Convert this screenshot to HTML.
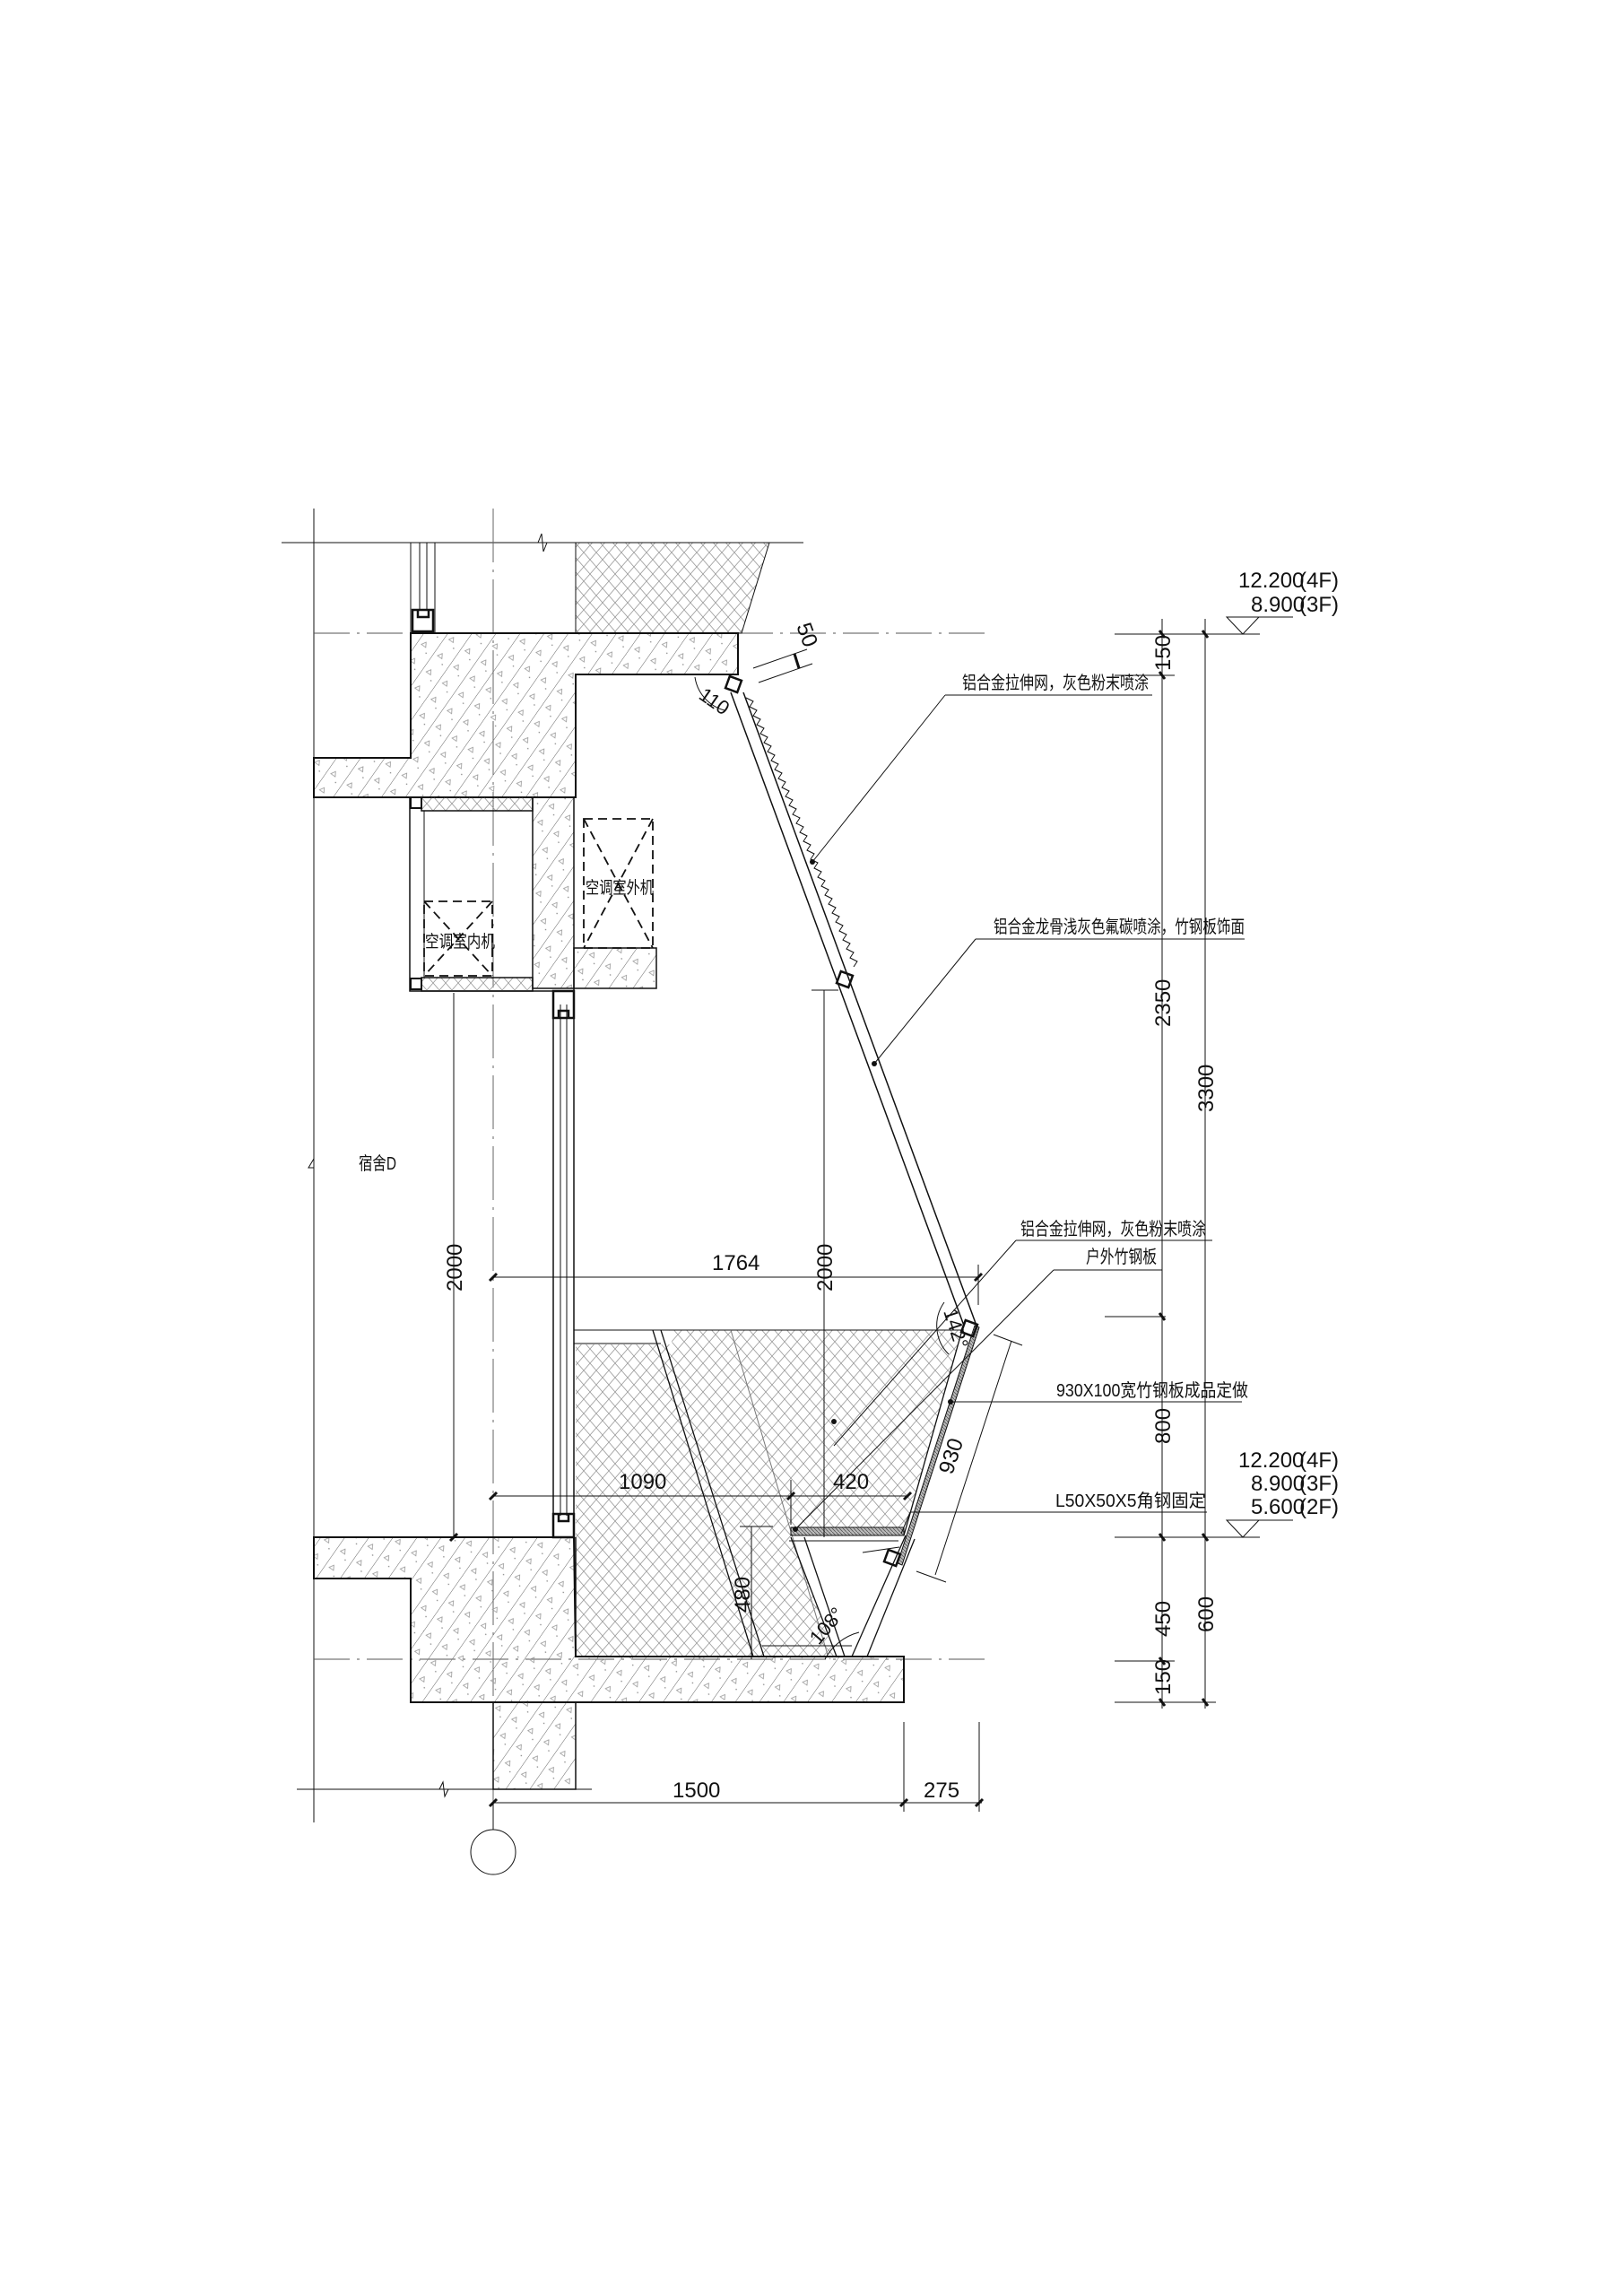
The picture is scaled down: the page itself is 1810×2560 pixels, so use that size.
<!DOCTYPE html>
<html><head><meta charset="utf-8"><style>
html,body{margin:0;padding:0;background:#fff}
svg{display:block}
text{font-family:"Liberation Sans","Noto Sans CJK SC",sans-serif;fill:#111}
</style></head><body>
<svg width="1810" height="2560" viewBox="0 0 1810 2560" xmlns="http://www.w3.org/2000/svg">
<defs>
<pattern id="con" width="22" height="22" patternUnits="userSpaceOnUse" patternTransform="rotate(35)">
<line x1="0" y1="0" x2="0" y2="22" stroke="#666" stroke-width="1"/>
<path d="M8 6 l3 5 l-6 0z" fill="none" stroke="#999" stroke-width="0.8"/>
<circle cx="15" cy="16" r="0.8" fill="#888"/>
</pattern>
<pattern id="mesh" width="14" height="16" patternUnits="userSpaceOnUse">
<path d="M0 0 Q3.5 4 7 8 Q10.5 12 14 16 M14 0 Q10.5 4 7 8 Q3.5 12 0 16" fill="none" stroke="#999" stroke-width="0.8"/>
</pattern>
<pattern id="bam" width="4" height="4" patternUnits="userSpaceOnUse">
<rect width="4" height="4" fill="#bbb"/><line x1="0" y1="0" x2="4" y2="4" stroke="#555" stroke-width="0.8"/>
</pattern>
</defs>
<g stroke="#111" fill="none" stroke-width="1">
<line x1="350" y1="567" x2="350" y2="2032"/>
<path d="M350 1292 l-6 10 l6 0"/>
<line x1="314" y1="605" x2="896" y2="605"/>
<path d="M600 605 l4 -10 l2 20 l4 -10" />
<line x1="350" y1="706" x2="1100" y2="706" stroke-dasharray="40 8 3 8" stroke="#555"/>
<line x1="350" y1="1850" x2="1100" y2="1850" stroke-dasharray="40 8 3 8" stroke="#555"/>
<line x1="550" y1="567" x2="550" y2="2040" stroke-dasharray="60 8 3 8" stroke="#666"/>
<path d="M642 605 L858 605 L827 706 L642 706 Z" fill="url(#mesh)"/>
<line x1="458" y1="605" x2="458" y2="706"/><line x1="468" y1="605" x2="468" y2="680"/><line x1="476" y1="605" x2="476" y2="680"/><line x1="485" y1="605" x2="485" y2="706"/>
<path d="M460 680 h23 v24 h-23z M466 680 v8 h12 v-8" stroke-width="2.5"/>
<path d="M458 706 L823 706 L823 752 L642 752 L642 889 L350 889 L350 845 L458 845 Z" fill="url(#con)" stroke-width="2"/>
<path d="M457 889 v216 h183" stroke-width="1.5"/>
<rect x="470" y="889" width="124" height="15" fill="url(#mesh)" stroke-width="1.5"/>
<rect x="470" y="1090" width="124" height="15" fill="url(#mesh)" stroke-width="1.5"/>
<rect x="458" y="889" width="12" height="12" stroke-width="2"/><rect x="458" y="1091" width="12" height="12" stroke-width="2"/>
<line x1="473" y1="904" x2="473" y2="1090"/>
<rect x="594" y="889" width="46" height="213" fill="url(#con)" stroke-width="1.5"/>
<rect x="640" y="1057" width="92" height="45" fill="url(#con)" stroke-width="1.5"/>
<g stroke-dasharray="10 6" stroke-width="1.8">
<rect x="651" y="913" width="77" height="144"/><line x1="651" y1="913" x2="728" y2="1057"/><line x1="728" y1="913" x2="651" y2="1057"/>
<rect x="473" y="1005" width="76" height="83"/><line x1="473" y1="1005" x2="549" y2="1088"/><line x1="549" y1="1005" x2="473" y2="1088"/>
</g>
<line x1="617" y1="1105" x2="617" y2="1714" stroke-width="1.5"/><line x1="625" y1="1120" x2="625" y2="1690"/><line x1="632" y1="1120" x2="632" y2="1690"/><line x1="640" y1="1102" x2="640" y2="1714" stroke-width="1.5"/>
<path d="M617 1105 h23 v30 h-23z M623 1135 v-8 h11 v8" stroke-width="2.5"/>
<path d="M617 1688 h23 v26 h-23z M623 1688 v8 h11 v-8" stroke-width="2.5"/>
<line x1="815" y1="772" x2="1075" y2="1478" stroke-width="1.5"/>
<line x1="829" y1="772" x2="1089" y2="1478" stroke-width="1.5"/>
<path d="M832 778 l8 4 l-4 6 l8 4 l-4 6 l8 4 l-4 6 l8 4 l-4 6 l8 4 l-4 6 l8 4 l-4 6 l8 4 l-4 6 l8 4 l-4 6 l8 4 l-4 6 l8 4 l-4 6 l8 4 l-4 6 l8 4 l-4 6 l8 4 l-4 6 l8 4 l-4 6 l8 4 l-4 6 l8 4 l-4 6 l8 4 l-4 6 l8 4 l-4 6 l8 4 l-4 6 l8 4 l-4 6 l8 4 l-4 6 l8 4 l-4 6 l8 4 l-4 6 l8 4 l-4 6 l8 4 l-4 6 l8 4 l-4 6 l8 4 l-4 6 l8 4 l-4 6 l8 4 l-4 6 l8 4 l-4 6"/>
<rect x="811" y="756" width="14" height="14" stroke-width="2.5" transform="rotate(20 818 763)"/>
<rect x="935" y="1085" width="14" height="14" stroke-width="2.5" transform="rotate(20 942 1092)"/>
<path d="M775 755 A45 45 0 0 0 808 792" />
<line x1="840" y1="745" x2="900" y2="724"/><line x1="846" y1="761" x2="906" y2="740"/><line x1="886" y1="729" x2="891" y2="745" stroke-width="3"/>
<path d="M642 1499 L642 1847 L933 1847 L882 1712 L1008 1712 L1073 1483 L746 1483 L750 1499 Z" fill="url(#mesh)" stroke="none"/>
<line x1="640" y1="1483" x2="1075" y2="1483"/>
<line x1="640" y1="1498" x2="737" y2="1498"/>
<line x1="728" y1="1483" x2="840" y2="1847" stroke-width="1.3"/>
<line x1="737" y1="1483" x2="852" y2="1847" stroke-width="1.3"/>
<line x1="815" y1="1483" x2="923" y2="1845" stroke="#777"/>
<line x1="642" y1="1714" x2="642" y2="1847" stroke-width="1.5"/>
<rect x="882" y="1703" width="126" height="9" fill="url(#bam)"/>
<line x1="882" y1="1714" x2="933" y2="1847" stroke-width="1.3"/>
<line x1="897" y1="1714" x2="942" y2="1847" stroke-width="1.3"/>
<line x1="1010" y1="1712" x2="950" y2="1847" stroke-width="1.3"/>
<line x1="1020" y1="1716" x2="967" y2="1847" stroke-width="1.3"/>
<line x1="880" y1="1718" x2="1002" y2="1718"/>
<line x1="850" y1="1835" x2="950" y2="1835"/>
<polygon points="1087,1478 1092,1480 1006,1745 1001,1743" fill="url(#bam)" stroke-width="1"/>
<line x1="1073" y1="1483" x2="1008" y2="1712" stroke-width="1.3"/>
<rect x="1074" y="1474" width="14" height="14" stroke-width="2.5" transform="rotate(20 1081 1481)"/>
<rect x="988" y="1730" width="14" height="14" stroke-width="2.5" transform="rotate(20 995 1737)"/>
<path d="M1053 1452 A45 45 0 0 0 1058 1510"/>
<path d="M920 1850 A60 60 0 0 1 958 1820"/>
<path d="M350 1714 L640 1714 L642 1847 L1008 1847 L1008 1898 L458 1898 L458 1760 L350 1760 Z" fill="url(#con)" stroke-width="2"/>
<rect x="550" y="1898" width="92" height="97" fill="url(#con)" stroke-width="1.5"/>
<line x1="331" y1="1995" x2="660" y2="1995"/>
<path d="M490 1995 l4 -8 l2 16 l4 -8"/>
<circle cx="550" cy="2065" r="25"/>
<line x1="550" y1="2040" x2="550" y2="2010"/>
<line x1="550" y1="2010" x2="1095" y2="2010"/>
<line x1="1008" y1="1920" x2="1008" y2="2020"/><line x1="1092" y1="1920" x2="1092" y2="2020"/>
<g stroke-width="3"><line x1="546" y1="2014" x2="554" y2="2006"/><line x1="1004" y1="2014" x2="1012" y2="2006"/><line x1="1088" y1="2014" x2="1096" y2="2006"/></g>
<line x1="506" y1="1107" x2="506" y2="1714"/>
<line x1="550" y1="1424" x2="1092" y2="1424"/><line x1="1091" y1="1410" x2="1091" y2="1455"/>
<g stroke-width="3"><line x1="546" y1="1428" x2="554" y2="1420"/><line x1="1087" y1="1428" x2="1095" y2="1420"/><line x1="502" y1="1718" x2="510" y2="1710"/></g>
<line x1="919" y1="1104" x2="919" y2="1714"/><line x1="905" y1="1104" x2="935" y2="1104"/>
<line x1="550" y1="1668" x2="1012" y2="1668"/>
<line x1="882" y1="1650" x2="882" y2="1700"/>
<g stroke-width="3"><line x1="546" y1="1672" x2="554" y2="1664"/><line x1="878" y1="1672" x2="886" y2="1664"/><line x1="1008" y1="1672" x2="1016" y2="1664"/></g>
<line x1="838" y1="1702" x2="838" y2="1850"/><line x1="825" y1="1702" x2="862" y2="1702"/>
<line x1="1128" y1="1495" x2="1043" y2="1756"/>
<line x1="1108" y1="1488" x2="1140" y2="1500"/><line x1="1022" y1="1752" x2="1055" y2="1764"/>
<line x1="1296" y1="690" x2="1296" y2="1905"/><line x1="1344" y1="690" x2="1344" y2="1905"/>
<line x1="1243" y1="707" x2="1405" y2="707"/>
<line x1="1243" y1="753" x2="1310" y2="753"/>
<line x1="1232" y1="1468" x2="1300" y2="1468"/>
<line x1="1243" y1="1714" x2="1405" y2="1714"/>
<line x1="1243" y1="1852" x2="1310" y2="1852"/>
<line x1="1243" y1="1898" x2="1356" y2="1898"/>
<g stroke-width="3"><line x1="1293" y1="703" x2="1299" y2="711"/><line x1="1341" y1="703" x2="1347" y2="711"/><line x1="1293" y1="749" x2="1299" y2="757"/><line x1="1293" y1="1464" x2="1299" y2="1472"/><line x1="1293" y1="1710" x2="1299" y2="1718"/><line x1="1341" y1="1710" x2="1347" y2="1718"/><line x1="1293" y1="1848" x2="1299" y2="1856"/><line x1="1293" y1="1894" x2="1299" y2="1902"/><line x1="1341" y1="1894" x2="1347" y2="1902"/></g>
<path d="M1368 688 L1404 688 L1386 707 Z"/><line x1="1368" y1="688" x2="1442" y2="688"/>
<path d="M1368 1695 L1404 1695 L1386 1714 Z"/><line x1="1368" y1="1695" x2="1442" y2="1695"/>
<line x1="1054" y1="775" x2="1285" y2="775"/><line x1="1054" y1="775" x2="906" y2="961"/>
<line x1="1088" y1="1047" x2="1388" y2="1047"/><line x1="1088" y1="1047" x2="975" y2="1186"/>
<line x1="1133" y1="1383" x2="1352" y2="1383"/><line x1="1133" y1="1383" x2="930" y2="1612"/>
<line x1="1175" y1="1416" x2="1296" y2="1416"/><line x1="1175" y1="1416" x2="887" y2="1705"/>
<line x1="1060" y1="1563" x2="1385" y2="1563"/>
<line x1="1015" y1="1686" x2="1346" y2="1686"/><line x1="1015" y1="1686" x2="1005" y2="1710"/>
<line x1="1003" y1="1725" x2="962" y2="1731"/>
</g>
<g fill="#111">
<circle cx="906" cy="961" r="3"/><circle cx="975" cy="1186" r="3"/><circle cx="930" cy="1585" r="3"/><circle cx="887" cy="1705" r="3"/><circle cx="1060" cy="1563" r="3"/>
</g>
<g font-size="20">
<text x="1138" y="1377" textLength="207" lengthAdjust="spacingAndGlyphs">铝合金拉伸网，灰色粉末喷涂</text>
<text x="1211" y="1408" textLength="79" lengthAdjust="spacingAndGlyphs">户外竹钢板</text>
<text x="1178" y="1557" textLength="214" lengthAdjust="spacingAndGlyphs">930X100宽竹钢板成品定做</text>
<text x="1177" y="1680" textLength="168" lengthAdjust="spacingAndGlyphs">L50X50X5角钢固定</text>
<text x="1073" y="768" textLength="208" lengthAdjust="spacingAndGlyphs">铝合金拉伸网，灰色粉末喷涂</text>
<text x="1108" y="1040" textLength="280" lengthAdjust="spacingAndGlyphs">铝合金龙骨浅灰色氟碳喷涂，竹钢板饰面</text>
<text x="400" y="1304" textLength="42" lengthAdjust="spacingAndGlyphs">宿舍D</text>
<text x="653" y="996" font-size="19" textLength="76" lengthAdjust="spacingAndGlyphs">空调室外机</text>
<text x="474" y="1056" font-size="19" textLength="78" lengthAdjust="spacingAndGlyphs">空调室内机</text>
</g>
<g font-size="24">
<text x="1381" y="655">12.200</text><text x="1449" y="655">(4F)</text>
<text x="1395" y="682">8.900</text><text x="1449" y="682">(3F)</text>
<text x="1381" y="1636">12.200</text><text x="1449" y="1636">(4F)</text>
<text x="1395" y="1662">8.900</text><text x="1449" y="1662">(3F)</text>
<text x="1395" y="1688">5.600</text><text x="1449" y="1688">(2F)</text>
<text x="794" y="1416">1764</text>
<text x="690" y="1660">1090</text>
<text x="929" y="1660">420</text>
<text x="750" y="2004">1500</text>
<text x="1030" y="2004">275</text>
<text transform="translate(515,1440) rotate(-90)">2000</text>
<text transform="translate(928,1440) rotate(-90)">2000</text>
<text transform="translate(1305,1145) rotate(-90)">2350</text>
<text transform="translate(1353,1240) rotate(-90)">3300</text>
<text transform="translate(1305,1610) rotate(-90)">800</text>
<text transform="translate(1305,1825) rotate(-90)">450</text>
<text transform="translate(1353,1820) rotate(-90)">600</text>
<text transform="translate(1305,1890) rotate(-90)">150</text>
<text transform="translate(1305,748) rotate(-90)">150</text>
<text transform="translate(836,1798) rotate(-90)">480</text>
<text transform="translate(1062,1645) rotate(-72)">930</text>
<text transform="translate(888,698) rotate(70)">50</text>
<text transform="translate(778,778) rotate(35)" font-size="22">110</text>
<text transform="translate(1052,1462) rotate(72)" font-size="22">142°</text>
<text transform="translate(913,1835) rotate(-50)" font-size="22">108°</text>
</g>
</svg>
</body></html>
